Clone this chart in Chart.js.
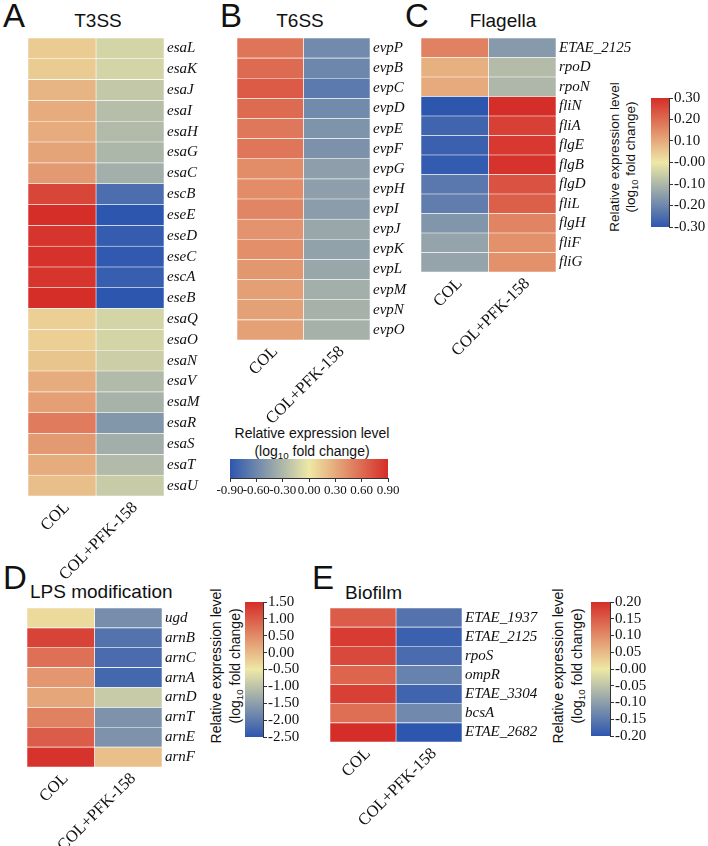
<!DOCTYPE html>
<html>
<head>
<meta charset="utf-8">
<script src="https://cdn.jsdelivr.net/npm/chart.js@4.4.0/dist/chart.umd.min.js"></script>
<style>
  body { margin: 0; background: #fff; width: 708px; height: 846px; position: relative; overflow: hidden;
         font-family: "Liberation Sans", Arial, sans-serif; color: #111; }
  canvas { position: absolute; }
  .txt { position: absolute; white-space: nowrap; line-height: 1; }
  .letter { font-size: 33px; }
  .title { font-size: 19px; }
  .ctr { transform: translateX(-50%); }
  .cbl { position: absolute; white-space: nowrap; text-align: center; font-size: 14px; line-height: 17px;
         transform: translate(-50%, -50%) rotate(-90deg); }
  .cbh { position: absolute; white-space: nowrap; text-align: center; font-size: 14px; line-height: 18px;
         transform: translateX(-50%); }
  sub { font-size: 0.7em; line-height: 0; vertical-align: -0.3em; }
</style>
</head>
<body>

<div class="txt letter" style="left:3px;top:-1px">A</div>
<div class="txt letter" style="left:220px;top:-1px">B</div>
<div class="txt letter" style="left:405px;top:-1px">C</div>
<div class="txt letter" style="left:3px;top:561px">D</div>
<div class="txt letter" style="left:312px;top:561px">E</div>

<div class="txt title ctr" style="left:98px;top:11px">T3SS</div>
<div class="txt title ctr" style="left:300px;top:11px">T6SS</div>
<div class="txt title ctr" style="left:503px;top:11px">Flagella</div>
<div class="txt title" style="left:30px;top:582px">LPS modification</div>
<div class="txt title" style="left:345px;top:583px">Biofilm</div>

<div class="cbh" style="left:312px;top:424px">Relative expression level<br>(log<sub>10</sub> fold change)</div>
<div class="cbl" style="left:623px;top:157px;font-size:13.5px;line-height:16px">Relative expression level<br>(log<sub>10</sub> fold change)</div>
<div class="cbl" style="left:226px;top:666px;line-height:19px">Relative expression level<br>(log<sub>10</sub> fold change)</div>
<div class="cbl" style="left:568px;top:666px;line-height:19px">Relative expression level<br>(log<sub>10</sub> fold change)</div>

<canvas id="hmA"></canvas>
<canvas id="hmB"></canvas>
<canvas id="hmC"></canvas>
<canvas id="hmD"></canvas>
<canvas id="hmE"></canvas>
<canvas id="cbB"></canvas>
<canvas id="cbC"></canvas>
<canvas id="cbD"></canvas>
<canvas id="cbE"></canvas>

<script>
// colunas (condições)
const conditions = ['COL', 'COL+PFK-158'];

// T3SS
const t3ssGenes = ['esaL', 'esaK', 'esaJ', 'esaI', 'esaH', 'esaG', 'esaC', 'escB', 'eseE', 'eseD', 'eseC',
                   'escA', 'eseB', 'esaQ', 'esaO', 'esaN', 'esaV', 'esaM', 'esaR', 'esaS', 'esaT', 'esaU'];
const t3ssCol = [0.14, 0.14, 0.25, 0.29, 0.29, 0.33, 0.38, 0.78, 0.90, 0.86, 0.88,
                 0.86, 0.90, 0.12, 0.12, 0.17, 0.29, 0.35, 0.52, 0.38, 0.29, 0.20];
const t3ssPfk = [-0.12, -0.12, -0.20, -0.26, -0.28, -0.31, -0.35, -0.75, -0.90, -0.86, -0.88,
                 -0.85, -0.90, -0.12, -0.12, -0.16, -0.28, -0.33, -0.50, -0.36, -0.28, -0.18];

// T6SS
const t6ssGenes = ['evpP', 'evpB', 'evpC', 'evpD', 'evpE', 'evpF', 'evpG', 'evpH', 'evpI', 'evpJ',
                   'evpK', 'evpL', 'evpM', 'evpN', 'evpO'];
const t6ssCol = [0.56, 0.60, 0.68, 0.60, 0.54, 0.55, 0.44, 0.44, 0.47, 0.41, 0.43, 0.39, 0.35, 0.34, 0.34];
const t6ssPfk = [-0.58, -0.60, -0.68, -0.58, -0.52, -0.53, -0.45, -0.45, -0.46, -0.40, -0.43, -0.40, -0.35, -0.34, -0.34];

// Flagella
const flaGenes = ['ETAE_2125', 'rpoD', 'rpoN', 'fliN', 'fliA', 'flgE', 'flgB', 'flgD', 'fliL', 'flgH', 'fliF', 'fliG'];
const flaCol = [0.165, 0.09, 0.10, -0.30, -0.27, -0.28, -0.29, -0.23, -0.22, -0.17, -0.14, -0.14];
const flaPfk = [-0.16, -0.09, -0.10, 0.30, 0.27, 0.28, 0.29, 0.24, 0.22, 0.16, 0.14, 0.14];

// LPS modification
const lpsGenes = ['ugd', 'arnB', 'arnC', 'arnA', 'arnD', 'arnT', 'arnE', 'arnF'];
const lpsCol = [-0.34, 1.26, 0.78, 0.38, 0.20, 0.60, 1.00, 1.44];
const lpsPfk = [-1.74, -2.10, -2.20, -2.26, -0.90, -1.66, -1.66, -0.06];

// Biofilm
const bioGenes = ['ETAE_1937', 'ETAE_2125', 'rpoS', 'ompR', 'ETAE_3304', 'bcsA', 'ETAE_2682'];
const bioCol = [0.15, 0.185, 0.17, 0.14, 0.18, 0.13, 0.20];
const bioPfk = [-0.16, -0.185, -0.17, -0.14, -0.18, -0.13, -0.20];

// escalas de cor (min, max) e ticks das barras de cor
const rangeB = [-0.9, 0.9];
const rangeC = [-0.3, 0.3];
const rangeD = [-2.5, 1.5];
const rangeE = [-0.2, 0.2];
const ticksB = [-0.9, -0.6, -0.3, 0, 0.3, 0.6, 0.9];
const tickLabelsB = ['-0.90', '-0.60', '-0.30', '0.00', '0.30', '0.60', '0.90'];
const ticksC = [-0.3, -0.2, -0.1, 0, 0.1, 0.2, 0.3];
const tickLabelsC = ['-0.30', '-0.20', '-0.10', '-0.00', '0.10', '0.20', '0.30'];
const ticksD = [-2.5, -2, -1.5, -1, -0.5, 0, 0.5, 1, 1.5];
const tickLabelsD = ['-2.50', '-2.00', '-1.50', '-1.00', '-0.50', '0.00', '0.50', '1.00', '1.50'];
const ticksE = [-0.2, -0.15, -0.1, -0.05, 0, 0.05, 0.1, 0.15, 0.2];
const tickLabelsE = ['-0.20', '-0.15', '-0.10', '-0.05', '-0.00', '0.05', '0.10', '0.15', '0.20'];

// paleta azul -> amarelo claro -> vermelho
const BLUE = [45, 86, 175], MID = [238, 232, 166], RED = [213, 45, 40];
const rgb = c => `rgb(${c.map(Math.round).join(',')})`;

function heatColor(v, range) {
  let t = (v - range[0]) / (range[1] - range[0]);
  t = Math.max(0, Math.min(1, t));
  const a = t < 0.5 ? BLUE : MID, b = t < 0.5 ? MID : RED;
  const f = t < 0.5 ? t * 2 : (t - 0.5) * 2;
  return rgb(a.map((x, i) => x + (b[i] - x) * f));
}

// fixa o tamanho do eixo e zera o padding extra dos rótulos
function fixSize(prop, size) {
  return s => {
    s[prop] = size;
    s.paddingLeft = 0; s.paddingRight = 0; s.paddingTop = 0; s.paddingBottom = 0;
  };
}

function placeCanvas(id, area, pad, extraW, extraH) {
  const cv = document.getElementById(id);
  const w = pad.left + area.w + extraW + pad.right;
  const h = pad.top + area.h + extraH + pad.bottom;
  cv.width = w; cv.height = h;
  cv.style.width = w + 'px'; cv.style.height = h + 'px';
  cv.style.left = (area.x - pad.left) + 'px';
  cv.style.top = (area.y - pad.top) + 'px';
  return cv;
}

function heatmap(id, area, genes, colVals, pfkVals, range) {
  const pad = { left: 90, top: 10, right: 10, bottom: 10 };
  const yW = 95, xH = 110;
  const cv = placeCanvas(id, area, pad, yW, xH);
  new Chart(cv, {
    type: 'bar',
    data: {
      labels: genes,
      datasets: [colVals, pfkVals].map((vals, i) => ({
        label: conditions[i],
        data: genes.map(() => [i, i + 1]),
        backgroundColor: vals.map(v => heatColor(v, range)),
        borderColor: '#ffffff',
        borderWidth: 0.6,
        borderSkipped: false,
        barPercentage: 1,
        categoryPercentage: 1,
        grouped: false
      }))
    },
    options: {
      indexAxis: 'y',
      responsive: false,
      animation: false,
      devicePixelRatio: 1,
      layout: { padding: pad },
      plugins: { legend: { display: false }, tooltip: { enabled: false } },
      scales: {
        x: {
          type: 'linear', min: 0, max: 2, position: 'bottom',
          grid: { display: false, drawTicks: false },
          border: { display: false },
          afterBuildTicks: a => { a.ticks = conditions.map((c, i) => ({ value: i + 0.5 })); },
          afterFit: fixSize('height', xH),
          ticks: {
            autoSkip: false, minRotation: 45, maxRotation: 45, padding: 2, labelOffset: 5, color: '#111',
            font: { family: '"Liberation Serif", "Times New Roman", serif', size: 16.5 },
            callback: (v, i) => conditions[i]
          }
        },
        y: {
          type: 'category', position: 'right',
          grid: { display: false, drawTicks: false },
          border: { display: false },
          afterFit: fixSize('width', yW),
          ticks: {
            autoSkip: false, padding: 3, color: '#111',
            font: { family: '"Liberation Serif", "Times New Roman", serif', style: 'italic', size: 15 }
          }
        }
      }
    }
  });
}

function gradientFill(horizontal) {
  return c => {
    const ch = c.chart, a = ch.chartArea;
    if (!a) return 'rgba(0,0,0,0)';
    const g = horizontal
      ? ch.ctx.createLinearGradient(a.left, 0, a.right, 0)
      : ch.ctx.createLinearGradient(0, a.bottom, 0, a.top);
    g.addColorStop(0, rgb(BLUE));
    g.addColorStop(0.5, rgb(MID));
    g.addColorStop(1, rgb(RED));
    return g;
  };
}

function colorbar(id, area, range, tickVals, tickLabels, horizontal, fontSize) {
  const pad = horizontal ? { left: 22, top: 2, right: 22, bottom: 2 } : { left: 2, top: 12, right: 2, bottom: 12 };
  const axisSize = horizontal ? 26 : 52;
  const cv = placeCanvas(id, area, pad, horizontal ? 0 : axisSize, horizontal ? axisSize : 0);
  const valAxis = {
    type: 'linear', min: range[0], max: range[1],
    position: horizontal ? 'bottom' : 'right',
    grid: { display: true, drawOnChartArea: false, drawTicks: true, tickLength: 4, color: '#333' },
    border: { display: true, color: '#333' },
    afterBuildTicks: a => { a.ticks = tickVals.map(v => ({ value: v })); },
    afterFit: fixSize(horizontal ? 'height' : 'width', axisSize),
    ticks: {
      autoSkip: false, padding: 1, color: '#111', maxRotation: 0,
      font: { family: '"Liberation Serif", "Times New Roman", serif', size: fontSize },
      callback: (v, i) => tickLabels[i]
    }
  };
  const catAxis = { type: 'category', display: false };
  new Chart(cv, {
    type: 'bar',
    data: {
      labels: [''],
      datasets: [{
        data: [[range[0], range[1]]],
        backgroundColor: gradientFill(horizontal),
        borderWidth: 0,
        barPercentage: 1,
        categoryPercentage: 1
      }]
    },
    options: {
      indexAxis: horizontal ? 'y' : 'x',
      responsive: false,
      animation: false,
      devicePixelRatio: 1,
      layout: { padding: pad },
      plugins: { legend: { display: false }, tooltip: { enabled: false } },
      scales: horizontal ? { x: valAxis, y: catAxis } : { x: catAxis, y: valAxis }
    }
  });
}

heatmap('hmA', { x: 28, y: 38, w: 136, h: 458 }, t3ssGenes, t3ssCol, t3ssPfk, rangeB);
heatmap('hmB', { x: 237, y: 38, w: 133, h: 302 }, t6ssGenes, t6ssCol, t6ssPfk, rangeB);
heatmap('hmC', { x: 421, y: 38, w: 135, h: 234 }, flaGenes, flaCol, flaPfk, rangeC);
heatmap('hmD', { x: 27, y: 608, w: 135, h: 159 }, lpsGenes, lpsCol, lpsPfk, rangeD);
heatmap('hmE', { x: 330, y: 608, w: 132, h: 134 }, bioGenes, bioCol, bioPfk, rangeE);

colorbar('cbB', { x: 230, y: 459, w: 158, h: 19 }, rangeB, ticksB, tickLabelsB, true, 13);
colorbar('cbC', { x: 651, y: 98, w: 18, h: 129 }, rangeC, ticksC, tickLabelsC, false, 15);
colorbar('cbD', { x: 245, y: 602, w: 18, h: 135 }, rangeD, ticksD, tickLabelsD, false, 15);
colorbar('cbE', { x: 591, y: 602, w: 19, h: 134 }, rangeE, ticksE, tickLabelsE, false, 15);
</script>
</body>
</html>
